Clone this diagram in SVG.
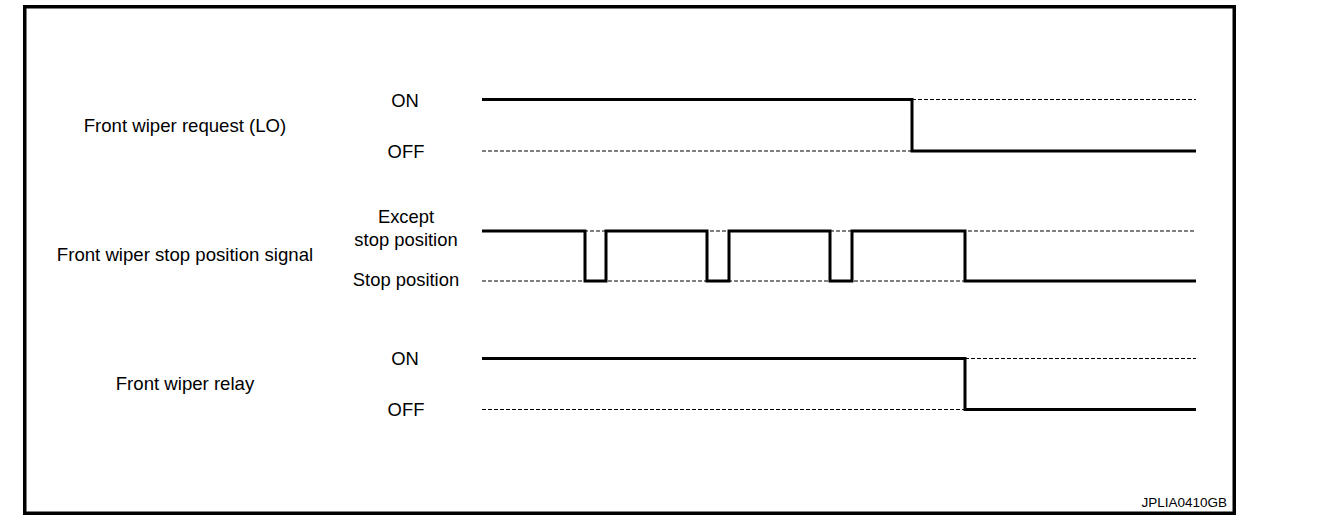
<svg xmlns="http://www.w3.org/2000/svg" width="1328" height="524" viewBox="0 0 1328 524">
<style>
text{font-family:"Liberation Sans",Arial,sans-serif;fill:#000}
.lbl{font-size:18.6px;text-anchor:middle}
.lvl{font-size:18.4px;text-anchor:middle}
.dash{stroke:#000;stroke-width:1;stroke-dasharray:4 2;fill:none}
.sig{stroke:#000;stroke-width:3;fill:none;stroke-linejoin:miter;stroke-linecap:butt}
</style>
<rect x="0" y="0" width="1328" height="524" fill="#fff"/>
<rect x="24.75" y="6.75" width="1209.5" height="506.5" fill="none" stroke="#000" stroke-width="3.5"/>
<g id="request">
<text class="lbl" x="185" y="132">Front wiper request (LO)</text>
<text class="lvl" x="405" y="107">ON</text>
<text class="lvl" x="406" y="158">OFF</text>
</g>
<g id="stop-signal">
<text class="lbl" x="185" y="261">Front wiper stop position signal</text>
<text class="lvl" x="406" y="223">Except</text>
<text class="lvl" x="406" y="246">stop position</text>
<text class="lvl" x="406" y="286">Stop position</text>
</g>
<g id="relay">
<text class="lbl" x="185" y="390">Front wiper relay</text>
<text class="lvl" x="405" y="365">ON</text>
<text class="lvl" x="406" y="416">OFF</text>
</g>
<g id="connectors">
<line class="dash" x1="912" y1="99.5" x2="1196" y2="99.5"/>
<line class="dash" x1="482" y1="151" x2="912" y2="151"/>
<path class="sig" d="M482,99.5 H912 V151 H1196"/>
<line class="dash" x1="482" y1="231" x2="1196" y2="231"/>
<line class="dash" x1="482" y1="281" x2="1196" y2="281"/>
<path class="sig" d="M482,231 H585 V281 H606 V231 H707 V281 H729 V231 H830 V281 H852 V231 H965 V281 H1196"/>
<line class="dash" x1="965" y1="358.5" x2="1196" y2="358.5"/>
<line class="dash" x1="482" y1="409.5" x2="965" y2="409.5"/>
<path class="sig" d="M482,358.5 H965 V409.5 H1196"/>
</g>
<text x="1227" y="507" font-size="13.5" text-anchor="end">JPLIA0410GB</text>
</svg>
